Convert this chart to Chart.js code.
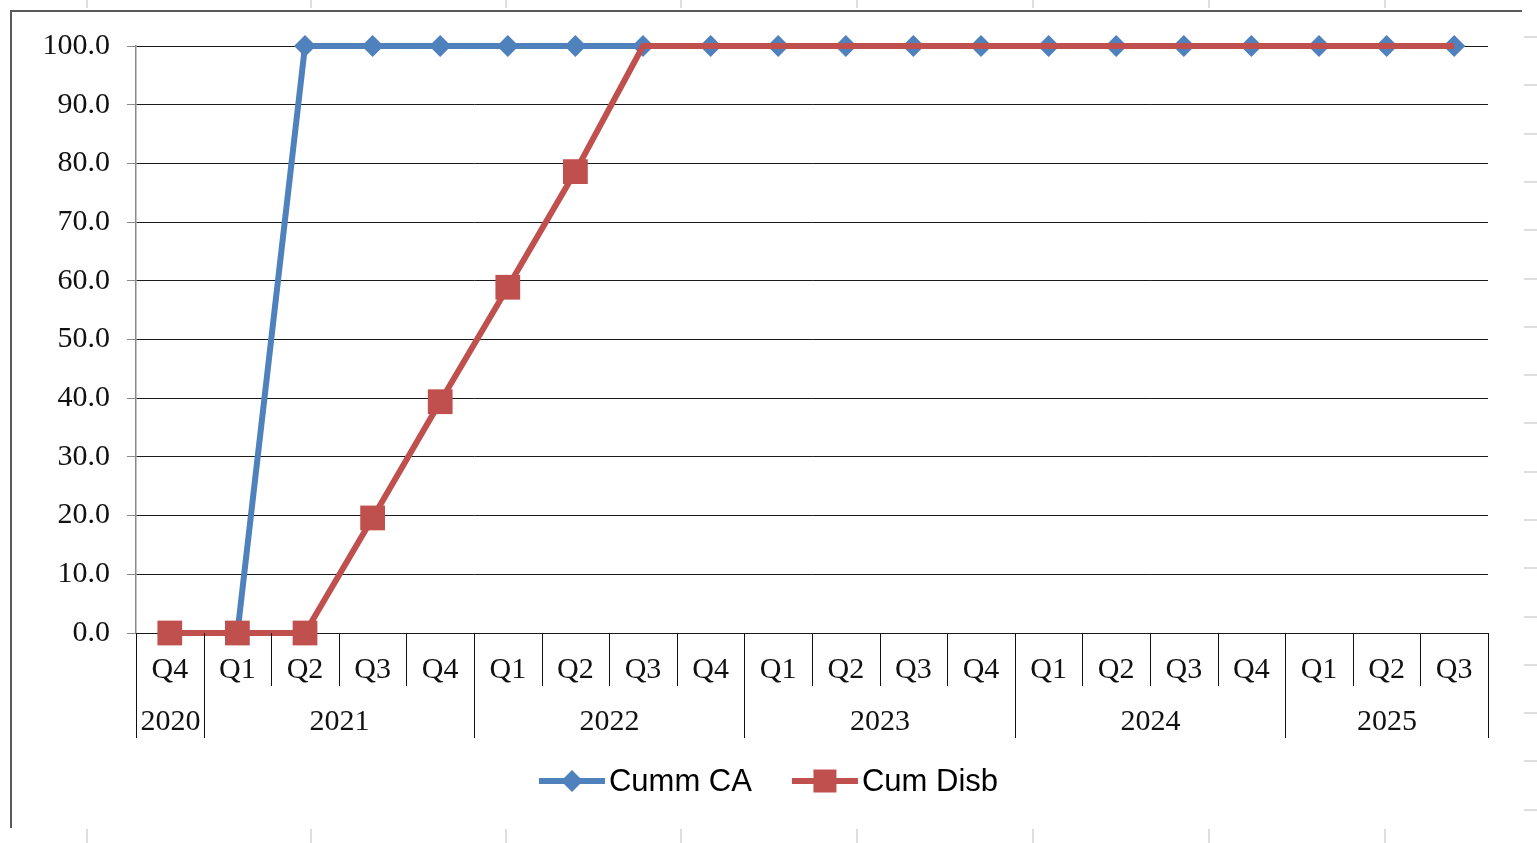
<!DOCTYPE html>
<html>
<head>
<meta charset="utf-8">
<title>Cumulative CA and Disbursement</title>
<script src="https://cdn.jsdelivr.net/npm/chart.js@4.4.1/dist/chart.umd.min.js"></script>
<style>
  html, body { margin: 0; padding: 0; background: #ffffff; }
  #wrap { width: 1537px; height: 843px; position: relative; }
  canvas { display: block; }
</style>
</head>
<body>
<div id="wrap"><canvas id="chart" width="1537" height="843"></canvas></div>
<script>
// Quarter labels along the axis, grouped by year underneath
const quarters = ['Q4', 'Q1', 'Q2', 'Q3', 'Q4', 'Q1', 'Q2', 'Q3', 'Q4', 'Q1',
                  'Q2', 'Q3', 'Q4', 'Q1', 'Q2', 'Q3', 'Q4', 'Q1', 'Q2', 'Q3'];
const years = ['2020', '2021', '2022', '2023', '2024', '2025'];
const quartersPerYear = [1, 4, 4, 4, 4, 3];

// Cumulative percentages per quarter
const cummCA = [0, 0, 100, 100, 100, 100, 100, 100, 100, 100,
                100, 100, 100, 100, 100, 100, 100, 100, 100, 100];
const cumDisb = [0, 0, 0, 19.6, 39.4, 58.9, 78.6, 100, 100, 100,
                 100, 100, 100, 100, 100, 100, 100, 100, 100, 100];

// Y axis ticks
const yTicks = { min: 0, max: 100, step: 10 };

const BLUE = '#4F81BD';
const RED = '#C0504D';
const SERIF = '"Liberation Serif", "DejaVu Serif", serif';
const SANS = '"Liberation Sans", Arial, sans-serif';

// White page, sheet cell lines around the chart object, and the object's frame
const sheetFrame = {
  id: 'sheetFrame',
  beforeDraw(chart) {
    const ctx = chart.ctx;
    ctx.save();
    ctx.fillStyle = '#ffffff';
    ctx.fillRect(0, 0, chart.width, chart.height);
    ctx.strokeStyle = '#d4d4d4';
    ctx.lineWidth = 1.5;
    ctx.beginPath();
    [87, 311, 506, 681, 857, 1033, 1209, 1385].forEach(x => {
      ctx.moveTo(x, 0); ctx.lineTo(x, 8);
      ctx.moveTo(x, 829); ctx.lineTo(x, 843);
    });
    for (let y = 37; y < 830; y += 48.3) {
      ctx.moveTo(1524, Math.round(y)); ctx.lineTo(1537, Math.round(y));
    }
    ctx.stroke();
    ctx.strokeStyle = '#5a5a5a';
    ctx.lineWidth = 2;
    ctx.beginPath();
    ctx.moveTo(11, 828);
    ctx.lineTo(11, 11);
    ctx.lineTo(1522, 11);
    ctx.stroke();
    ctx.restore();
  }
};

// Two-level category axis: quarter cells and year groups
const yearAxis = {
  id: 'yearAxis',
  afterDraw(chart) {
    const { ctx, chartArea } = chart;
    const x = chart.scales.x;
    const step = x.getPixelForValue(1) - x.getPixelForValue(0);
    const edge = i => Math.round(x.getPixelForValue(i) - step / 2) + 0.5;
    const top = chartArea.bottom;
    const quarterBottom = top + 53;
    const yearBottom = top + 105;

    const groupEdges = new Set([0]);
    let acc = 0;
    quartersPerYear.forEach(n => { acc += n; groupEdges.add(acc); });

    ctx.save();
    ctx.strokeStyle = '#111111';
    ctx.lineWidth = 1;
    ctx.beginPath();
    for (let i = 0; i <= quarters.length; i++) {
      const px = edge(i);
      ctx.moveTo(px, top);
      ctx.lineTo(px, groupEdges.has(i) ? yearBottom : quarterBottom);
    }
    ctx.stroke();

    ctx.fillStyle = '#111111';
    ctx.font = '30px ' + SERIF;
    ctx.textAlign = 'center';
    ctx.textBaseline = 'middle';
    let start = 0;
    years.forEach((yr, k) => {
      const end = start + quartersPerYear[k];
      ctx.fillText(yr, (edge(start) + edge(end)) / 2, top + 89);
      start = end;
    });
    ctx.restore();
  }
};

// Legend entries drawn as a line segment with the series marker on it
const lineLegend = {
  id: 'lineLegend',
  afterDraw(chart) {
    const ctx = chart.ctx;
    const cy = 781;
    const lineLen = 66;
    const textGap = 4;
    const itemGap = 40;
    ctx.save();
    ctx.font = '31px ' + SANS;
    const items = chart.data.datasets.map(ds => ({
      ds, w: lineLen + textGap + ctx.measureText(ds.label).width
    }));
    const total = items.reduce((s, it) => s + it.w, 0) + itemGap * (items.length - 1);
    let x0 = chart.width / 2 - total / 2;
    items.forEach(({ ds, w }) => {
      ctx.strokeStyle = ds.borderColor;
      ctx.lineWidth = ds.borderWidth;
      ctx.beginPath();
      ctx.moveTo(x0, cy);
      ctx.lineTo(x0 + lineLen, cy);
      ctx.stroke();
      const mx = x0 + lineLen / 2;
      ctx.fillStyle = ds.borderColor;
      ctx.beginPath();
      if (ds.pointStyle === 'rectRot') {
        const r = 11;
        ctx.moveTo(mx, cy - r); ctx.lineTo(mx + r, cy);
        ctx.lineTo(mx, cy + r); ctx.lineTo(mx - r, cy);
        ctx.closePath();
      } else {
        const h = 11.5;
        ctx.rect(mx - h, cy - h, 2 * h, 2 * h);
      }
      ctx.fill();
      ctx.fillStyle = '#000000';
      ctx.textAlign = 'left';
      ctx.textBaseline = 'middle';
      ctx.fillText(ds.label, x0 + lineLen + textGap, cy + 1);
      x0 += w + itemGap;
    });
    ctx.restore();
  }
};

new Chart(document.getElementById('chart'), {
  type: 'line',
  data: {
    labels: quarters,
    datasets: [
      {
        label: 'Cumm CA',
        data: cummCA,
        order: 1,
        borderColor: BLUE,
        backgroundColor: BLUE,
        borderWidth: 6,
        tension: 0,
        pointStyle: 'rectRot',
        pointRadius: 11,
        pointBackgroundColor: BLUE,
        pointBorderWidth: 0,
        clip: false
      },
      {
        label: 'Cum Disb',
        data: cumDisb,
        order: 0,
        borderColor: RED,
        backgroundColor: RED,
        borderWidth: 6,
        tension: 0,
        pointStyle: 'rect',
        // markers only while disbursement is still building up
        pointRadius: ctx => (ctx.parsed && ctx.parsed.y < 100 ? 17.5 : 0),
        pointBackgroundColor: RED,
        pointBorderWidth: 0,
        clip: false
      }
    ]
  },
  options: {
    responsive: false,
    animation: false,
    events: [],
    layout: { padding: { top: 46, right: 49, bottom: 105, left: 0 } },
    plugins: {
      legend: { display: false },
      tooltip: { enabled: false }
    },
    scales: {
      x: {
        type: 'category',
        offset: true,
        grid: { display: false, drawTicks: false },
        border: { display: false },
        ticks: {
          autoSkip: false,
          maxRotation: 0,
          padding: 19,
          color: '#111111',
          font: { family: SERIF, size: 30 }
        },
        afterFit(scale) { scale.height = 105; }
      },
      y: {
        min: yTicks.min,
        max: yTicks.max,
        ticks: {
          stepSize: yTicks.step,
          padding: 17,
          color: '#111111',
          font: { family: SERIF, size: 30 },
          callback: v => Number(v).toFixed(1)
        },
        grid: { color: '#1a1a1a', tickColor: '#8a8a8a', tickLength: 9, lineWidth: 1 },
        border: { color: '#8a8a8a', width: 1.5 },
        afterFit(scale) { scale.width = 136; }
      }
    }
  },
  plugins: [sheetFrame, yearAxis, lineLegend]
});
</script>
</body>
</html>
